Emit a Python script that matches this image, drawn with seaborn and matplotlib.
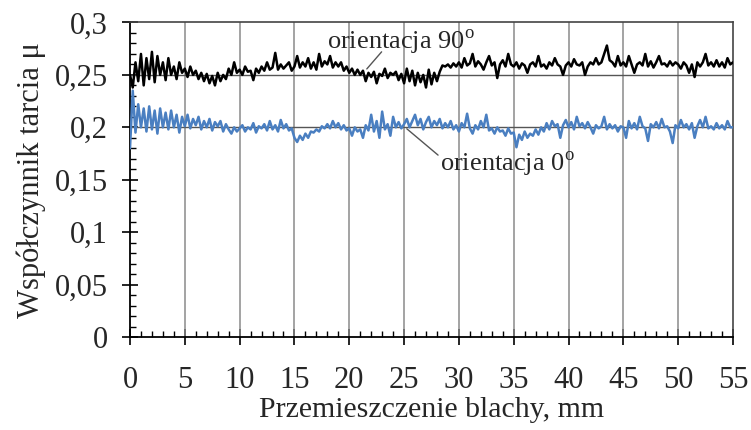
import numpy as np
import pandas as pd
import matplotlib
matplotlib.use('Agg')
import matplotlib.pyplot as plt
import seaborn as sns
from matplotlib.ticker import MultipleLocator, FixedLocator, FixedFormatter

# Przemieszczenie blachy [mm], odczyt co 0.25 mm
krok = 0.25
x_max = 55

# orientacja 90 stopni (czarna)
mu_90 = [
    0.250, 0.238, 0.262, 0.244, 0.270, 0.240, 0.266, 0.246, 0.272, 0.243, 0.268, 0.250,
    0.262, 0.245, 0.266, 0.250, 0.258, 0.246, 0.262, 0.252, 0.256, 0.248, 0.258, 0.250,
    0.254, 0.246, 0.252, 0.244, 0.251, 0.242, 0.249, 0.240, 0.252, 0.244, 0.250, 0.246,
    0.256, 0.250, 0.262, 0.252, 0.255, 0.250, 0.258, 0.253, 0.254, 0.245, 0.256, 0.252,
    0.258, 0.254, 0.262, 0.255, 0.257, 0.271, 0.255, 0.260, 0.256, 0.259, 0.262, 0.254,
    0.258, 0.268, 0.257, 0.262, 0.258, 0.266, 0.256, 0.262, 0.255, 0.270, 0.258, 0.263,
    0.260, 0.268, 0.257, 0.262, 0.258, 0.262, 0.254, 0.258, 0.252, 0.256, 0.250, 0.255,
    0.250, 0.254, 0.244, 0.252, 0.248, 0.253, 0.242, 0.251, 0.249, 0.256, 0.247, 0.252,
    0.250, 0.253, 0.245, 0.251, 0.242, 0.256, 0.244, 0.254, 0.240, 0.252, 0.243, 0.250,
    0.238, 0.255, 0.241, 0.252, 0.244, 0.253, 0.259, 0.258, 0.260, 0.257, 0.261, 0.258,
    0.262, 0.257, 0.266, 0.259, 0.261, 0.270, 0.258, 0.263, 0.260, 0.255, 0.262, 0.268,
    0.259, 0.262, 0.247, 0.260, 0.264, 0.258, 0.270, 0.260, 0.258, 0.262, 0.256, 0.261,
    0.259, 0.252, 0.260, 0.262, 0.258, 0.268, 0.258, 0.260, 0.256, 0.262, 0.259, 0.266,
    0.260, 0.258, 0.250, 0.259, 0.262, 0.258, 0.265, 0.260, 0.259, 0.262, 0.250, 0.258,
    0.262, 0.260, 0.266, 0.260, 0.262, 0.270, 0.278, 0.264, 0.262, 0.258, 0.268, 0.259,
    0.262, 0.258, 0.268, 0.260, 0.252, 0.260, 0.262, 0.259, 0.270, 0.258, 0.263, 0.257,
    0.262, 0.268, 0.260, 0.261, 0.258, 0.263, 0.259, 0.262, 0.260, 0.256, 0.262, 0.259,
    0.252, 0.260, 0.248, 0.262, 0.258, 0.262, 0.270, 0.259, 0.262, 0.258, 0.264, 0.258,
    0.262, 0.257, 0.266, 0.260, 0.262,
]

# orientacja 0 stopni (niebieska)
mu_0 = [
    0.180, 0.235, 0.195, 0.222, 0.200, 0.218, 0.196, 0.220, 0.198, 0.216, 0.194, 0.218,
    0.200, 0.214, 0.198, 0.216, 0.200, 0.212, 0.195, 0.210, 0.201, 0.212, 0.199, 0.208,
    0.202, 0.210, 0.198, 0.206, 0.200, 0.208, 0.197, 0.205, 0.201, 0.206, 0.196, 0.203,
    0.198, 0.194, 0.200, 0.196, 0.199, 0.202, 0.196, 0.200, 0.198, 0.204, 0.195, 0.201,
    0.199, 0.203, 0.197, 0.206, 0.198, 0.202, 0.196, 0.207, 0.199, 0.203, 0.197, 0.199,
    0.190, 0.186, 0.192, 0.188, 0.194, 0.190, 0.196, 0.195, 0.198, 0.196, 0.201, 0.199,
    0.203, 0.199, 0.206, 0.200, 0.204, 0.198, 0.202, 0.197, 0.199, 0.192, 0.200, 0.196,
    0.198, 0.190, 0.202, 0.197, 0.212, 0.196, 0.206, 0.190, 0.215, 0.198, 0.203, 0.192,
    0.210, 0.200, 0.205, 0.199, 0.203, 0.208, 0.200, 0.206, 0.212, 0.202, 0.208, 0.198,
    0.205, 0.210, 0.200, 0.206, 0.202, 0.208, 0.199, 0.204, 0.200, 0.206, 0.198, 0.202,
    0.196, 0.204, 0.200, 0.213, 0.199, 0.194, 0.202, 0.198, 0.206, 0.200, 0.212, 0.197,
    0.199, 0.194, 0.200, 0.196, 0.197, 0.192, 0.199, 0.194, 0.195, 0.181, 0.193, 0.188,
    0.196, 0.190, 0.194, 0.192, 0.198, 0.193, 0.200, 0.196, 0.204, 0.198, 0.206, 0.201,
    0.203, 0.190, 0.202, 0.207, 0.200, 0.205, 0.198, 0.210, 0.201, 0.204, 0.199, 0.205,
    0.200, 0.194, 0.202, 0.199, 0.201, 0.210, 0.198, 0.203, 0.199, 0.202, 0.196, 0.201,
    0.200, 0.190, 0.206, 0.199, 0.204, 0.198, 0.210, 0.201, 0.199, 0.187, 0.203, 0.200,
    0.205, 0.199, 0.208, 0.200, 0.201, 0.196, 0.185, 0.202, 0.199, 0.207, 0.200, 0.203,
    0.198, 0.204, 0.190, 0.201, 0.207, 0.200, 0.210, 0.199, 0.201, 0.198, 0.204, 0.199,
    0.202, 0.198, 0.206, 0.200, 0.200,
]

x_ticks = [0, 5, 10, 15, 20, 25, 30, 35, 40, 45, 50, 55]
y_ticks = [0, 0.05, 0.1, 0.15, 0.2, 0.25, 0.3]
y_tick_labels = ['0', '0,05', '0,1', '0,15', '0,2', '0,25', '0,3']
y_lines = [0.2, 0.25]

x = np.round(np.arange(len(mu_90)) * krok, 2)
df = pd.concat([
    pd.DataFrame({'s': x, 'mu': mu_90, 'orientacja': '90'}),
    pd.DataFrame({'s': x, 'mu': mu_0, 'orientacja': '0'}),
], ignore_index=True)

sns.set_theme(style='white')
plt.rcParams['font.family'] = ['Liberation Serif', 'DejaVu Serif']
plt.rcParams['mathtext.fontset'] = 'custom'
plt.rcParams['mathtext.rm'] = 'Liberation Serif'

fig, ax = plt.subplots(figsize=(7.51, 4.30), dpi=100)
fig.subplots_adjust(left=0.1731, right=0.976, bottom=0.2163, top=0.9477)

# siatka
for xv in x_ticks[1:-1]:
    ax.axvline(xv, color='#8a8a8a', lw=1.1, zorder=1)
for yv in y_lines:
    ax.axhline(yv, color='#555555', lw=1.0, zorder=1)

sns.lineplot(data=df, x='s', y='mu', hue='orientacja', estimator=None,
             palette={'90': '#000000', '0': '#4a7fc1'}, linewidth=1.8,
             legend=False, ax=ax, zorder=3)

ax.set_xlim(0, x_max)
ax.set_ylim(0, 0.3)
ax.xaxis.set_major_locator(FixedLocator(x_ticks))
ax.xaxis.set_minor_locator(MultipleLocator(1))
ax.yaxis.set_major_locator(FixedLocator(y_ticks))
ax.yaxis.set_major_formatter(FixedFormatter(y_tick_labels))
ax.yaxis.set_minor_locator(MultipleLocator(0.01))

ax.tick_params(axis='both', which='major', direction='inout', length=12, width=1.2,
               color='black', labelsize=22, bottom=True, left=True)
ax.tick_params(axis='x', which='major', pad=15)
ax.tick_params(axis='y', which='major', pad=10)
ax.tick_params(axis='both', which='minor', direction='in', length=4, width=1.0,
               color='black', bottom=True, left=True)

for side in ['left', 'bottom']:
    ax.spines[side].set_color('black')
    ax.spines[side].set_linewidth(1.3)
for side in ['top', 'right']:
    ax.spines[side].set_color('#444444')
    ax.spines[side].set_linewidth(1.2)

ax.set_xlabel('Przemieszczenie blachy, mm', fontsize=21.5, labelpad=1)
ax.set_ylabel('Współczynnik tarcia μ', fontsize=22, labelpad=6)

ax.text(18.0, 0.2745, r'orientacja 90$^{\mathrm{o}}$', fontsize=19, va='baseline', ha='left')
ax.plot([22.95, 21.6], [0.272, 0.2557], color='#555555', lw=1.0, zorder=4)
ax.text(28.3, 0.158, r'orientacja 0$^{\mathrm{o}}$', fontsize=19, va='baseline', ha='left')
ax.plot([25.25, 28.1], [0.1986, 0.1735], color='#555555', lw=1.0, zorder=4)

fig.savefig('out.png', dpi=100)
